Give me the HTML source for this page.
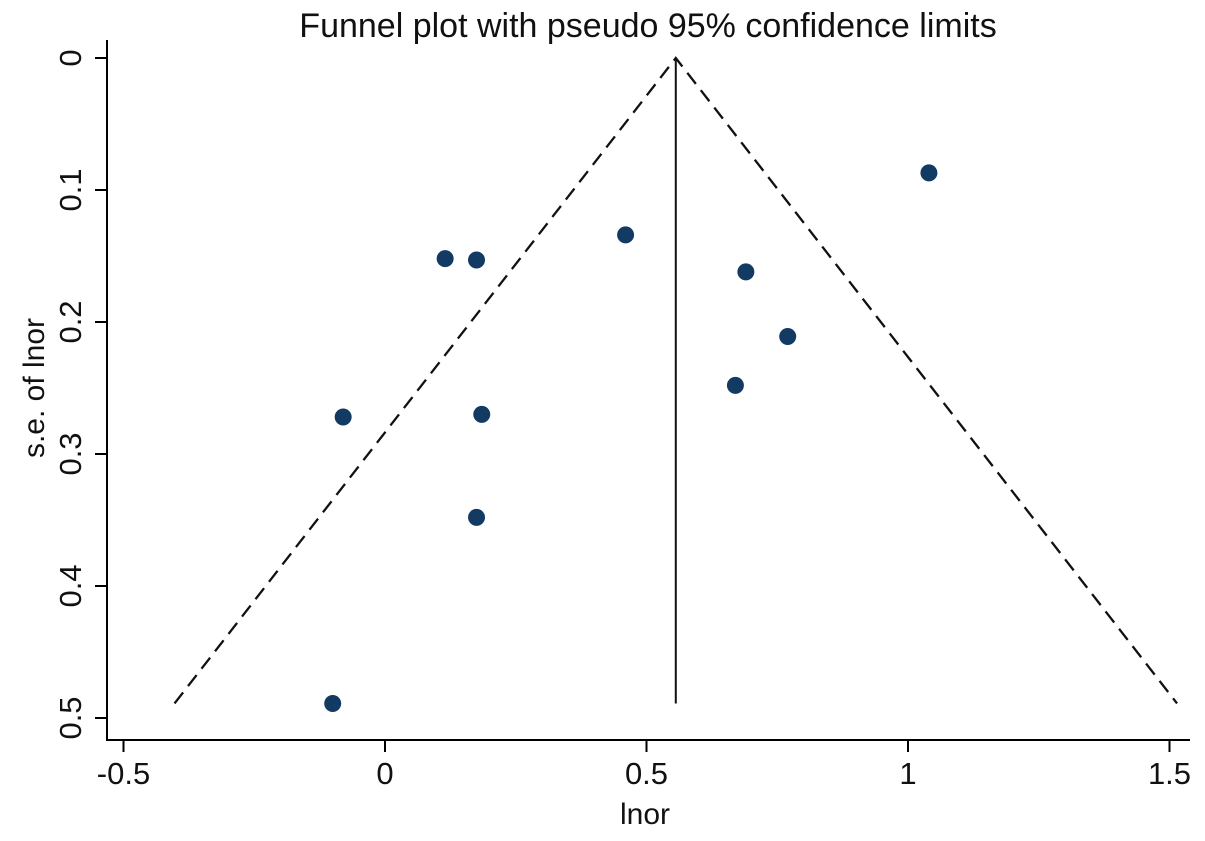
<!DOCTYPE html>
<html><head><meta charset="utf-8"><style>
body{margin:0;background:#fff}
svg text{font-family:"Liberation Sans",Arial,sans-serif;fill:#111}
</style></head><body>
<svg width="1205" height="836" viewBox="0 0 1205 836">
<rect width="1205" height="836" fill="#fff"/>
<text x="648" y="37" font-size="34" text-anchor="middle">Funnel plot with pseudo 95% confidence limits</text>
<g id="axes"></g>
<g id="marks"></g>
<text x="645" y="824" font-size="30" text-anchor="middle">lnor</text>
<text transform="translate(44,388) rotate(-90)" font-size="30" text-anchor="middle">s.e. of lnor</text>
</svg>
<script>
const xTicks=[-0.5,0,0.5,1,1.5];
const xTickLabels=["-0.5","0","0.5","1","1.5"];
const yTicks=[0,0.1,0.2,0.3,0.4,0.5];
const yTickLabels=["0","0.1","0.2","0.3","0.4","0.5"];
const studyLnor=[1.04,0.46,0.115,0.175,0.69,0.77,0.67,-0.08,0.185,0.175,-0.1];
const studySe=[0.087,0.134,0.152,0.153,0.162,0.211,0.248,0.272,0.27,0.348,0.489];
const pooled=[0.556];
const maxSe=[0.489];
const X=v=>385+523*v, Y=s=>58+1320*s;
const NS="http://www.w3.org/2000/svg";
function mk(t,a,p){const e=document.createElementNS(NS,t);for(const k in a)e.setAttribute(k,a[k]);p.appendChild(e);return e;}
const ax=document.getElementById('axes'), mg=document.getElementById('marks');
let e=mk('line',{x1:107,y1:40,x2:107,y2:741,stroke:'#000','stroke-width':2},ax);


e=mk('line',{x1:106,y1:740,x2:1190,y2:740,stroke:'#000','stroke-width':2},ax);


xTicks.forEach((v,i)=>{
 mk('line',{x1:X(v),y1:740,x2:X(v),y2:752,stroke:'#000','stroke-width':2},ax);
 const t=mk('text',{x:X(v),y:784,'font-size':31,'text-anchor':'middle'},ax);t.textContent=xTickLabels[i];
 
 
});
yTicks.forEach((v,i)=>{
 mk('line',{x1:95,y1:Y(v),x2:107,y2:Y(v),stroke:'#000','stroke-width':2},ax);
 const t=mk('text',{transform:`translate(81,${Y(v)}) rotate(-90)`,'font-size':31,'text-anchor':'middle'},ax);t.textContent=yTickLabels[i];
 
 
});
const p=pooled[0], s=maxSe[0];
e=mk('polyline',{points:`${X(p-1.96*s)},${Y(s)} ${X(p)},${Y(0)} ${X(p+1.96*s)},${Y(s)}`,fill:'none',stroke:'#111','stroke-width':2.3,'stroke-dasharray':'14,8'},mg);


e=mk('line',{x1:X(p),y1:Y(0),x2:X(p),y2:Y(s),stroke:'#111','stroke-width':2},mg);


studyLnor.forEach((v,i)=>{
 const c=mk('circle',{cx:X(v),cy:Y(studySe[i]),r:8.5,fill:'#123a63'},mg);
 
 
});
</script>
</body></html>
